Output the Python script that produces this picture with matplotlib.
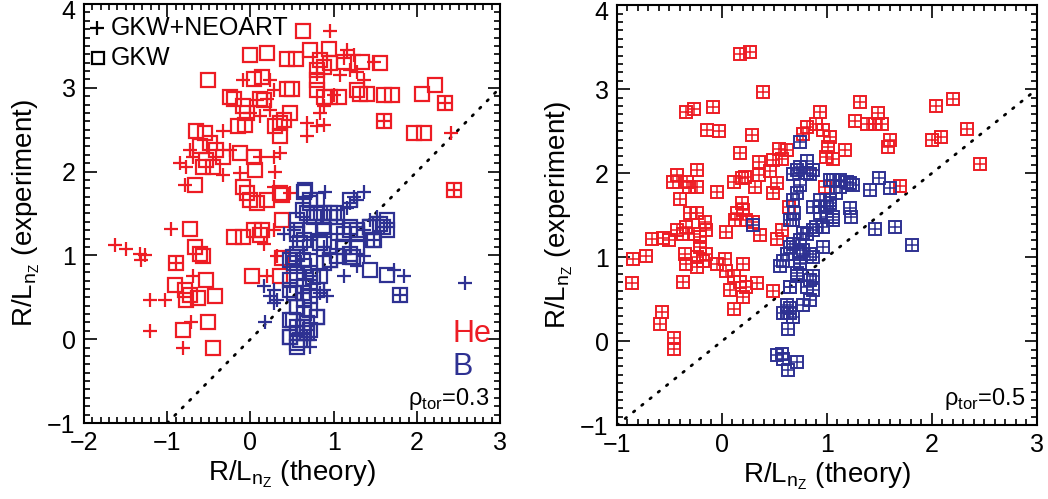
import matplotlib
matplotlib.use('Agg')
from matplotlib import pyplot as plt
from matplotlib.ticker import MultipleLocator
from matplotlib.transforms import ScaledTranslation

RED = '#ED1C24'
BLUE = '#2E3192'

# rho_tor = 0.3, He, GKW (squares)
he03_gkw_x = [0.63, -0.01, 0.20, 0.44, 0.55, 0.72, 0.94, 0.84, 0.88, 0.80, 0.96, 1.12, 1.34, 1.56,
              -0.51, 0.04, 0.14, -0.25, -0.20, 0.12, 0.16, 0.44, 0.50, 0.48, -0.09, -0.04,
              0.80, 0.80, 0.88, 0.96, 1.06, 1.28, 1.32, 1.40, 1.60, 1.70, 2.06, 2.22, 2.34, 1.60,
              1.96, 2.08, 2.44, -0.65, -0.55, -0.61, -0.49, -0.41, -0.53, -0.45, -0.57, -0.33,
              -0.15, -0.07, 0.30, 0.36, 0.40, 0.36, -0.13, 0.04, 0.06, -0.67, -0.09, -0.04, 0.00,
              0.08, 0.20, 0.36, 0.38, 0.38, -0.20, -0.09, 0.04, 0.12, 0.14, -0.73, -0.67, -0.61,
              -0.57, -0.89, -0.91, -0.79, -0.73, -0.53, -0.43, -0.63, -0.77, -0.51, -0.81, -0.45,
              0.02, 0.36, 0.38]
he03_gkw_y = [3.68, 3.39, 3.42, 3.34, 3.34, 3.45, 3.46, 3.33, 3.25, 3.21, 3.29, 3.31, 3.31, 3.29,
              3.09, 3.11, 3.13, 2.89, 2.87, 2.87, 2.85, 2.99, 2.99, 2.70, 2.78, 2.70,
              3.09, 2.97, 2.89, 2.89, 2.89, 2.97, 2.93, 2.93, 2.91, 2.91, 2.93, 3.03, 2.82, 2.60,
              2.46, 2.46, 1.78, 2.48, 2.46, 2.30, 2.34, 2.26, 2.14, 2.06, 2.06, 2.18,
              2.54, 2.56, 2.54, 2.58, 2.62, 2.42, 2.22, 2.18, 2.02, 1.84, 1.82, 1.74, 1.66,
              1.62, 1.66, 1.74, 1.72, 1.42, 1.22, 1.22, 1.30, 1.24, 1.30, 1.32, 1.10, 1.02,
              0.99, 0.91, 0.65, 0.59, 0.53, 0.71, 0.51, 0.49, 0.47, 0.21, 0.11, -0.11,
              0.75, 0.75, 0.97]

# rho_tor = 0.3, He, GKW+NEOART (plus)
he03_neo_x = [0.96, 1.16, 1.24, 1.12, 1.20, 1.08, 1.28, 1.36, 1.48, -0.09, 0.24, 0.28, 0.08, 0.20,
              0.24, 0.00, 0.12, 0.68, 0.80, 0.88, 0.68, 0.84, -0.33, -0.73, -0.69, -0.85, -0.77,
              -0.33, -0.25, -0.13, 0.12, 0.28, 0.36, 0.30, -0.79, 0.28, 0.48, 0.16, 0.28, -0.95,
              -1.63, -1.49, -1.33, -1.27, -1.31, 0.32, -1.21, -1.03, -0.69, -1.21, -0.71, -0.81,
              0.20, 2.41, 0.88, 1.00, 0.80, 2.34, 1.60, 2.44, -0.89]
he03_neo_y = [3.68, 3.45, 3.39, 3.35, 3.21, 3.15, 3.19, 3.09, 3.31, 3.09, 3.09, 2.97, 2.85, 2.87,
              2.74, 2.70, 2.66, 2.58, 2.54, 2.56, 2.42, 2.70, 2.48, 2.26, 2.18, 2.10, 2.06,
              1.96, 2.26, 1.98, 2.18, 2.18, 2.22, 2.00, 1.84, 1.82, 1.74, 1.14, 1.30, 1.32,
              1.12, 1.08, 1.02, 1.00, 0.95, 0.99, 0.47, 0.47, 0.75, 0.10, 0.21, -0.11,
              0.75, 2.46, 2.78, 2.91, 3.17, 2.82, 2.60, 1.78, 0.91]

# rho_tor = 0.3, B, GKW (squares)
b03_gkw_x = [0.64, 0.72, 0.68, 0.76, 0.96, 1.00, 0.88, 0.56, 0.64, 0.88, 1.12, 1.20, 1.28, 1.12,
             1.20, 1.28, 1.04, 0.56, 0.52, 0.64, 0.72, 0.88, 0.96, 0.48, 0.64, 0.72, 0.84, 0.52,
             0.64, 0.72, 0.56, 0.64, 0.80, 0.48, 0.56, 0.68, 0.48, 0.56, 0.64, 1.44, 1.56, 1.64,
             1.48, 1.44, 1.64, 1.80, 1.64, 1.20, 0.80, 0.88, 0.56, 1.04, 0.72, 0.48, 0.80, 0.56,
             0.72, 0.66, 0.72, 0.63, 0.80, 0.96, 1.04, 0.56, 0.72, 0.87, 1.20, 1.28, 0.60, 0.84,
             1.11, 1.23, 0.51, 0.63, 0.56, 0.75, 0.48, 0.63, 0.56, 0.72, 0.80, 0.51, 0.63, 0.48,
             0.60, 0.56, 0.68, 1.44, 1.59, 1.47, 1.20, 0.96]
b03_gkw_y = [1.76, 1.66, 1.50, 1.46, 1.46, 1.50, 1.30, 1.26, 1.18, 1.18, 1.26, 1.30, 1.26, 1.10,
             1.02, 1.10, 0.99, 1.02, 0.91, 0.87, 0.79, 0.91, 0.95, 0.71, 0.63, 0.67, 0.75, 0.55,
             0.47, 0.51, 0.39, 0.31, 0.27, 0.23, 0.15, 0.19, 0.03, -0.05, 0.07, 1.34, 1.38, 1.30,
             1.18, 0.83, 0.77, 0.53, 1.42, 1.66, 1.66, 1.50, 1.42, 1.34, 1.10, 0.95, 0.59, 0.07,
             0.11, 1.78, 1.63, 1.54, 1.51, 1.51, 1.46, 1.30, 1.30, 1.34, 1.34, 1.30, 1.15, 1.15,
             1.10, 0.98, 0.98, 0.95, 0.79, 0.74, 0.59, 0.55, 0.38, 0.35, 0.26, 0.23, 0.15, 0.03,
             -0.01, -0.09, 0.07, 1.34, 1.34, 1.18, 0.98, 0.95]

# rho_tor = 0.3, B, GKW+NEOART (plus)
b03_neo_x = [0.90, 1.36, 1.24, 1.20, 1.16, 1.28, 0.40, 0.52, 1.52, 1.44, 1.60, 1.36, 1.28, 1.12,
             1.72, 1.84, 2.58, 0.16, 0.28, 0.24, 0.32, 0.28, 0.48, 0.88, 0.92, 0.84, 0.18, 0.64,
             0.72, 0.72, 0.68, 0.88, 0.96, 0.80, 1.04, 1.36, 1.48, 1.80]
b03_neo_y = [1.76, 1.76, 1.70, 1.62, 1.56, 1.66, 1.26, 1.30, 1.46, 1.42, 1.34, 0.99, 0.87, 0.75,
             0.83, 0.75, 0.67, 0.63, 0.59, 0.51, 0.47, 0.43, 0.63, 0.59, 0.51, 0.55, 0.21, 0.07,
             -0.01, -0.09, 0.03, 1.10, 1.02, 1.26, 1.18, 1.30, 1.18, 0.53]

# rho_tor = 0.5, He (both models overlap)
he05_x = [0.17, 0.27, 0.39, -0.34, -0.27, -0.09, -0.14, -0.03, 0.29, 0.17, 0.35, 0.54, 0.62, 0.49,
          0.57, -0.43, -0.47, -0.24, -0.24, -0.33, -0.31, -0.40, -0.05, 0.11, 0.19, 0.22, 0.31,
          0.35, 0.46, 0.52, 0.49, 0.64, 0.14, 0.19, 0.20, 0.12, 0.23, 0.30, 0.04, 0.36, 0.52,
          0.57, -0.30, -0.24, -0.16, -0.15, -0.34, -0.43, -0.37, -0.27, -0.21, -0.50, -0.56,
          -0.67, -0.72, -0.85, -0.86, -0.35, -0.21, -0.15, -0.24, -0.18, -0.34, -0.24, -0.37,
          -0.05, 0.03, 0.04, 0.20, 0.11, 0.17, 0.23, 0.33, 0.08, 0.20, 0.11, 0.49, -0.57, -0.59,
          -0.46, -0.46, 0.81, 0.90, 0.93, 0.96, 1.03, 1.01, 0.99, 1.06, 1.17, 1.31, 1.27, 1.38,
          1.49, 1.52, 1.46, 1.60, 1.58, 1.70, 2.04, 2.20, 2.00, 2.09, 2.33, 2.46, 0.87, 0.98,
          0.77]
he05_y = [3.42, 3.44, 2.97, 2.73, 2.76, 2.79, 2.51, 2.50, 2.46, 2.24, 2.13, 2.29, 2.27, 2.16,
          2.17, 1.98, 1.89, 2.04, 1.84, 1.89, 1.84, 1.69, 1.77, 1.89, 1.94, 1.96, 1.84,
          1.98, 2.02, 1.88, 1.76, 1.60, 1.52, 1.64, 1.56, 1.44, 1.44, 1.42, 1.30, 1.26, 1.22,
          1.32, 1.52, 1.52, 1.42, 1.32, 1.36, 1.32, 1.28, 1.28, 1.24, 1.20, 1.23,
          1.22, 1.01, 0.98, 0.69, 1.04, 1.12, 1.04, 1.00, 0.96, 0.92, 0.88, 0.71,
          0.92, 0.98, 0.83, 0.92, 0.77, 0.71, 0.65, 0.69, 0.61, 0.53, 0.38, 0.60, 0.35, 0.21,
          0.04, -0.09, 2.55, 2.59, 2.73, 2.51, 2.43, 2.31, 2.19, 2.17, 2.27, 2.85, 2.62, 2.58,
          2.72, 2.58, 2.59, 2.39, 2.31, 1.85, 2.80, 2.88, 2.39, 2.43, 2.53, 2.11, 2.04, 1.84,
          2.47]

# rho_tor = 0.5, B (both models overlap)
b05_x = [0.74, 0.68, 0.74, 0.81, 0.84, 0.87, 0.74, 0.71, 0.68, 0.69, 0.65, 0.87, 0.93, 1.06, 1.12,
         1.19, 1.25, 1.09, 1.03, 1.00, 0.93, 1.06, 0.96, 0.87, 0.81, 0.74, 0.68, 0.62, 0.55, 0.74,
         0.84, 0.96, 0.74, 0.71, 0.87, 0.81, 0.65, 0.87, 0.84, 0.77, 0.62, 0.65, 0.58, 0.68, 0.63,
         0.30, 1.41, 1.50, 1.60, 1.22, 1.23, 1.46, 1.65, 1.81, 0.52, 0.58, 0.63, 0.71, 0.57, 1.03,
         0.71, 0.81, 1.12, 1.22, 1.03, 1.00, 1.06, 0.90, 0.68, 0.77, 0.65, 0.77, 0.58, 0.74, 0.87,
         0.71, 0.84, 0.65, 0.65, 0.62]
b05_y = [2.37, 1.99, 2.07, 2.15, 1.99, 2.04, 1.86, 1.76, 1.68, 1.52, 1.44, 1.60, 1.68, 1.92, 1.84,
         1.90, 1.86, 1.76, 1.68, 1.60, 1.52, 1.48, 1.36, 1.32, 1.28, 1.20, 1.16, 1.04, 0.90, 1.04,
         1.04, 1.12, 0.92, 0.77, 0.77, 0.65, 0.65, 0.61, 0.49, 0.43, 0.43, 0.33, 0.33, 0.29, 0.15,
         1.38, 1.80, 1.94, 1.82, 1.58, 1.48, 1.34, 1.36, 1.15, -0.17, -0.21, -0.34, -0.25, -0.15, 1.92,
         2.04, 2.00, 1.92, 1.88, 1.64, 1.48, 1.44, 1.36, 1.44, 1.29, 1.12, 1.08, 0.96, 0.93, 1.00,
         0.81, 0.73, 0.64, 0.40, 0.33]

plain = ['Liberation Sans', 'DejaVu Sans']
plt.rcParams['font.family'] = plain
plt.rcParams['mathtext.fontset'] = 'custom'
plt.rcParams['mathtext.rm'] = 'Liberation Sans'


def style_axes(ax, xmin):
    ax.set_xlim(xmin, 3)
    ax.set_ylim(-1, 4)
    ax.xaxis.set_major_locator(MultipleLocator(1))
    ax.yaxis.set_major_locator(MultipleLocator(1))
    ax.xaxis.set_minor_locator(MultipleLocator(0.1))
    ax.yaxis.set_minor_locator(MultipleLocator(0.1))
    ax.tick_params(which='both', direction='in', top=True, right=True, width=1.2)
    ax.tick_params(which='major', length=9, labelsize=18, pad=6)
    ax.tick_params(which='minor', length=4.5)
    for s in ax.spines.values():
        s.set_linewidth(1.5)
    ax.set_xlabel('R/L$_{\\mathregular{n_Z}}$ (theory)', fontsize=20, labelpad=2)
    ax.set_ylabel('R/L$_{\\mathregular{n_Z}}$ (experiment)', fontsize=20, labelpad=4)
    ax.plot([-1, 3], [-1, 3], color='black', lw=2, ls=(0, (0.6, 3.2)),
            dash_capstyle='round', zorder=1)


fig = plt.figure(figsize=(10.48, 4.99), dpi=100)
ax1 = fig.add_axes([0.0802, 0.1523, 0.397, 0.8397])
ax2 = fig.add_axes([0.5887, 0.148, 0.4008, 0.8417])

style_axes(ax1, -2)
style_axes(ax2, -1)

ms = 10
mw = 1.6
ax1.plot(he03_gkw_x, he03_gkw_y, 's', ms=ms, mfc='none', mec=RED, mew=mw, zorder=2)
ax1.plot(he03_neo_x, he03_neo_y, '+', ms=ms, mec=RED, mew=mw, zorder=2)
ax1.plot(b03_gkw_x, b03_gkw_y, 's', ms=ms, mfc='none', mec=BLUE, mew=mw, zorder=3)
ax1.plot(b03_neo_x, b03_neo_y, '+', ms=ms, mec=BLUE, mew=mw, zorder=3)

ms2 = 8.5
mw2 = 1.4
for xs, ys, c in [(he05_x, he05_y, RED), (b05_x, b05_y, BLUE)]:
    ax2.plot(xs, ys, 's', ms=ms2, mfc='none', mec=c, mew=mw2, zorder=2)
    ax2.plot(xs, ys, '+', ms=ms2, mec=c, mew=mw2 * 0.8, zorder=2)

# legend drawn by hand like the original
ax1.plot([0.031], [0.943], '+', ms=ms, mec='black', mew=mw, transform=ax1.transAxes)
ax1.plot([0.033], [0.871], 's', ms=ms - 1, mfc='none', mec='black', mew=mw, transform=ax1.transAxes)
ax1.text(0.063, 0.943, 'GKW+NEOART', transform=ax1.transAxes, fontsize=18,
         va='center', ha='left')
ax1.text(0.063, 0.871, 'GKW', transform=ax1.transAxes, fontsize=18,
         va='center', ha='left')

ax1.text(0.885, 0.212, 'He', color=RED, transform=ax1.transAxes, fontsize=22,
         va='center', ha='left')
ax1.text(0.885, 0.134, 'B', color=BLUE, transform=ax1.transAxes, fontsize=22,
         va='center', ha='left')

ax1.text(0.975, 0.043, 'ρ$_{\\mathregular{tor}}$=0.3', transform=ax1.transAxes, fontsize=17,
         va='baseline', ha='right')
ax2.text(0.971, 0.048, 'ρ$_{\\mathregular{tor}}$=0.5', transform=ax2.transAxes, fontsize=17,
         va='baseline', ha='right')

# keep the top "4" label inside the figure
fig.canvas.draw()
shift = ScaledTranslation(0, -4 / 72, fig.dpi_scale_trans)
for ax in (ax1, ax2):
    for lab in ax.get_yticklabels():
        if lab.get_text() == '4':
            lab.set_transform(lab.get_transform() + shift)

fig.savefig('out.png', dpi=100)
